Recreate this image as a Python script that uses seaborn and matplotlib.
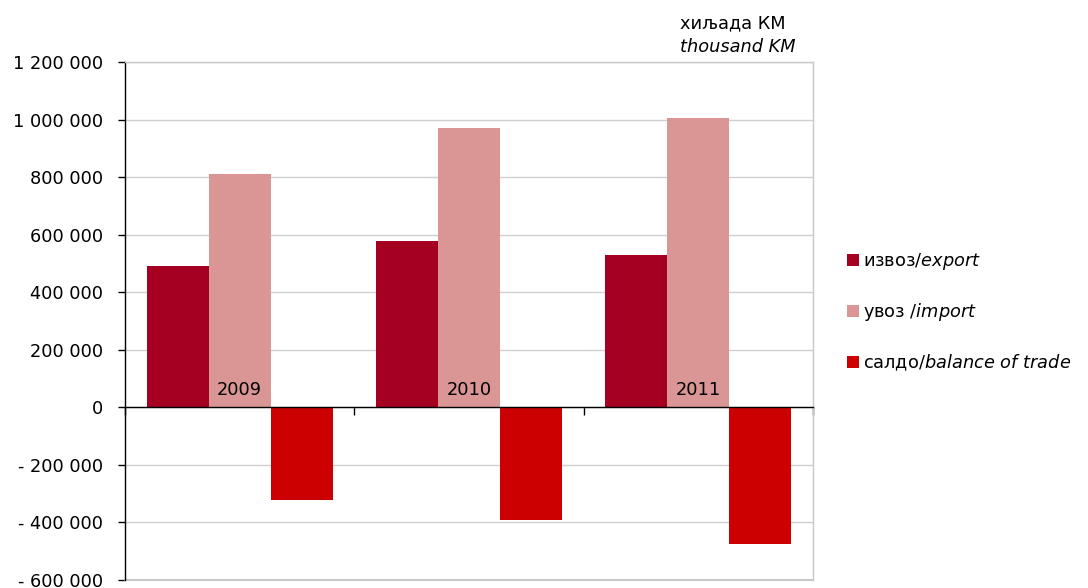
import pandas as pd
import seaborn as sns
import matplotlib.pyplot as plt

# values in thousand KM
years = ['2009', '2010', '2011']
export = [490000, 578000, 529000]
imports = [811000, 970000, 1005000]
balance = [-321000, -392000, -476000]

series_labels = [
    r'извоз/$\mathit{export}$',
    r'увоз /$\mathit{import}$',
    r'салдо/$\mathit{balance\ of\ trade}$',
]
colors = ['#A50021', '#D99694', '#CC0000']

df = pd.DataFrame({
    'year': years * 3,
    'value': export + imports + balance,
    'series': [series_labels[0]] * 3 + [series_labels[1]] * 3 + [series_labels[2]] * 3,
})

sns.set_theme(style='white')
plt.rcParams['font.family'] = ['DejaVu Sans']
plt.rcParams['text.color'] = 'black'
plt.rcParams['mathtext.fontset'] = 'custom'
plt.rcParams['mathtext.rm'] = 'DejaVu Sans'
plt.rcParams['mathtext.it'] = 'DejaVu Sans:italic'
FS = 12.8

fig = plt.figure(figsize=(10.88, 5.88), dpi=100)
ax = fig.add_axes([0.1149, 0.0136, 0.6323, 0.881])

sns.barplot(data=df, x='year', y='value', hue='series', palette=colors,
            width=0.81, dodge=True, ax=ax, saturation=1, legend=True,
            linewidth=0)

ax.set_xlim(-0.5, 2.5)
ax.set_ylim(-600000, 1200000)
yt = list(range(-600000, 1200001, 200000))
ax.set_yticks(yt)


def fmt(v):
    s = f'{abs(v):,}'.replace(',', ' ')
    return ('- ' + s) if v < 0 else s


ax.set_yticklabels([fmt(v) for v in yt], fontsize=FS, color='black')
ax.yaxis.grid(True, color='#d0d0d0', lw=1)
ax.set_axisbelow(True)

# x axis at zero with category divider ticks
ax.spines['bottom'].set_position(('data', 0))
ax.spines['bottom'].set_color('black')
ax.spines['bottom'].set_linewidth(1)
ax.set_xticks([-0.5, 0.5, 1.5, 2.5])
ax.set_xticklabels([])
ax.tick_params(axis='x', direction='out', length=6, width=1, color='black', bottom=True)
ax.tick_params(axis='y', direction='out', length=5, width=1, color='black', left=True, pad=11)
ax.spines['left'].set_color('black')
ax.spines['left'].set_linewidth(1)
for s in ['top', 'right']:
    ax.spines[s].set_color('#c8c8c8')
    ax.spines[s].set_linewidth(1)
ax.axhline(-600000, color='#c8c8c8', lw=1.5, clip_on=False)

for i, y in enumerate(years):
    ax.text(i, 30000, y, ha='center', va='bottom', fontsize=FS, color='black')

ax.set_xlabel('')
ax.set_ylabel('')

handles, labels = ax.get_legend_handles_labels()
leg = ax.legend(handles, labels, loc='center left', bbox_to_anchor=(0.7785, 0.4694),
                bbox_transform=fig.transFigure, frameon=False, fontsize=FS,
                handlelength=0.67, handleheight=0.67, handletextpad=0.22,
                labelspacing=1.65, borderpad=0, borderaxespad=0)
for t in leg.get_texts():
    t.set_color('black')

fig.text(0.625, 0.961, 'хиљада КМ', fontsize=FS, ha='left', va='center', color='black')
fig.text(0.625, 0.920, 'thousand KM', fontsize=FS, style='italic', ha='left', va='center', color='black')

fig.savefig('out.png', dpi=100)
